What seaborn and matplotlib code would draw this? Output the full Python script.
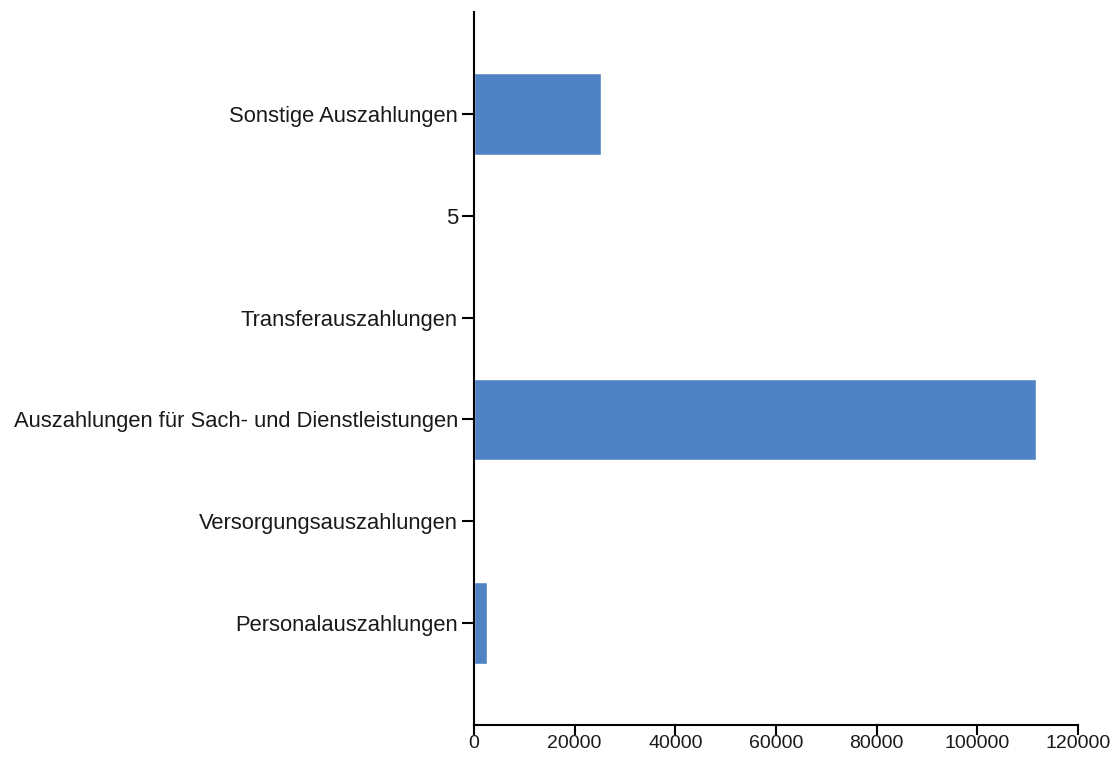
import matplotlib
matplotlib.use("Agg")
import matplotlib.pyplot as plt
import seaborn as sns
import pandas as pd

categories = ["Sonstige Auszahlungen", "5", "Transferauszahlungen",
              "Auszahlungen für Sach- und Dienstleistungen",
              "Versorgungsauszahlungen", "Personalauszahlungen"]
values = [25200, 0, 0, 111600, 0, 2600]
xticks = [0, 20000, 40000, 60000, 80000, 100000, 120000]

sns.set_theme(style="white")
plt.rcParams['font.family'] = ['Liberation Sans', 'DejaVu Sans']

df = pd.DataFrame({"cat": categories, "val": values})

fig = plt.figure(figsize=(11.17, 7.58), dpi=100)
ax = fig.add_axes([0.4243, 0.0435, 0.5408, 0.9407])
sns.barplot(data=df, y="cat", x="val", orient="h", color="#5083C3",
            saturation=1, width=0.8, ax=ax, order=categories)
ax.set_ylim(len(categories), -1)
ax.set_xlim(0, 120000)
ax.set_xticks(xticks)
ax.set_xticklabels([str(t) for t in xticks])
ax.set_xlabel("")
ax.set_ylabel("")
for s in ["top", "right"]:
    ax.spines[s].set_visible(False)
for s in ["left", "bottom"]:
    ax.spines[s].set_color("black")
    ax.spines[s].set_linewidth(1.5)
ax.tick_params(axis="both", which="major", width=1.5, color="black",
               labelcolor="#1a1a1a", bottom=True, left=True)
ax.tick_params(axis="y", pad=3, length=8.5, labelsize=15.8)
ax.tick_params(axis="x", pad=0, length=7, labelsize=14)
fig.savefig("out.png", dpi=100)
